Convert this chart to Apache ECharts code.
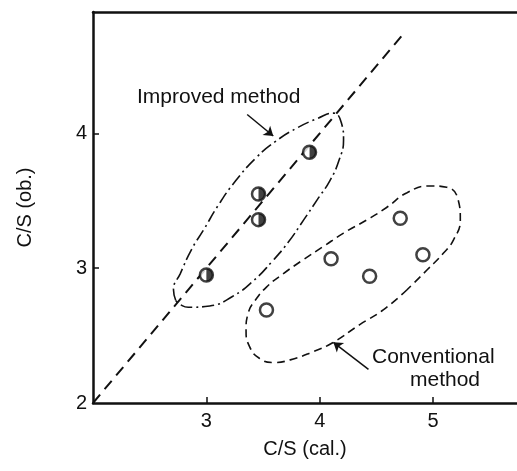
<!DOCTYPE html>
<html>
<head>
<meta charset="utf-8">
<script src="https://cdn.jsdelivr.net/npm/echarts@6/dist/echarts.min.js"></script>
<style>
  html, body { margin: 0; padding: 0; background: #fff; }
  #chart { width: 517px; height: 471px; }
</style>
</head>
<body>
<div id="chart"></div>
<script>
// values, C/S (cal.) vs C/S (ob.)
const improvedPoints = [[3.00, 2.95], [3.46, 3.55], [3.46, 3.36], [3.91, 3.86]];
const conventionalPoints = [[3.53, 2.69], [4.10, 3.07], [4.44, 2.94], [4.71, 3.37], [4.91, 3.10]];
const diagonalLine = [[2, 2], [4.74, 4.74]];

// hand-drawn outlines round each group
const improvedOutline = [
    [2.73, 2.76], [2.71, 2.84], [2.77, 2.96], [2.87, 3.14], [2.98, 3.29], [3.10, 3.46],
    [3.26, 3.65], [3.44, 3.82], [3.61, 3.94], [3.80, 4.04], [3.98, 4.11], [4.12, 4.15],
    [4.19, 4.08], [4.21, 3.95], [4.17, 3.80], [4.09, 3.65], [3.98, 3.51], [3.86, 3.36],
    [3.72, 3.19], [3.58, 3.05], [3.42, 2.91], [3.23, 2.79], [3.03, 2.72], [2.84, 2.71],
    [2.77, 2.73], [2.73, 2.76]
];
const conventionalOutline = [
    [4.77, 2.84], [4.56, 2.69], [4.35, 2.58], [4.12, 2.45], [3.94, 2.38], [3.74, 2.32],
    [3.59, 2.30], [3.47, 2.33], [3.38, 2.42], [3.35, 2.54], [3.37, 2.67], [3.43, 2.76],
    [3.53, 2.86], [3.68, 2.96], [3.85, 3.06], [4.03, 3.16], [4.21, 3.26], [4.42, 3.36],
    [4.59, 3.45], [4.77, 3.56], [4.97, 3.61], [5.12, 3.60], [5.22, 3.51], [5.24, 3.36],
    [5.18, 3.21], [5.09, 3.11], [4.95, 2.99], [4.77, 2.84]
];

// label arrows: [from, to]
const improvedArrow = [[3.36, 4.14], [3.59, 3.98]];
const conventionalArrow = [[4.43, 2.25], [4.12, 2.45]];

const xTicks = [3, 4, 5];
const yTicks = [3, 4];
const yLabels = [2, 3, 4];

const font = "'Liberation Sans', Arial, Helvetica, sans-serif";
const ink = '#111';

const chart = echarts.init(document.getElementById('chart'));

const option = {
    animation: false,
    grid: { left: 93, right: 0, top: 12, bottom: 68 },
    xAxis: [
        {
            type: 'value',
            min: 2,
            max: 5.74,
            interval: 1,
            name: 'C/S (cal.)',
            nameLocation: 'middle',
            nameGap: 36,
            nameTextStyle: { fontFamily: font, fontSize: 20, color: ink },
            axisLine: { show: true, onZero: false, lineStyle: { color: ink, width: 2.5 } },
            axisTick: { show: true, inside: true, length: 6, customValues: xTicks, lineStyle: { color: ink, width: 1.5 } },
            axisLabel: { customValues: xTicks, margin: 8, fontFamily: font, fontSize: 20, color: ink },
            splitLine: { show: false }
        },
        {
            type: 'value',
            position: 'top',
            min: 2,
            max: 5.74,
            axisLine: { show: true, onZero: false, lineStyle: { color: ink, width: 2.5 } },
            axisTick: { show: false },
            axisLabel: { show: false },
            splitLine: { show: false }
        }
    ],
    yAxis: {
        type: 'value',
        min: 2,
        max: 4.9,
        interval: 1,
        name: 'C/S (ob.)',
        nameLocation: 'middle',
        nameGap: 58,
        nameTextStyle: { fontFamily: font, fontSize: 20, color: ink },
        axisLine: { show: true, onZero: false, lineStyle: { color: ink, width: 2.5 } },
        axisTick: { show: true, inside: true, length: 6, customValues: yTicks, lineStyle: { color: ink, width: 1.5 } },
        axisLabel: { customValues: yLabels, margin: 6, fontFamily: font, fontSize: 20, color: ink },
        splitLine: { show: false }
    },
    series: [
        {
            name: 'y = x',
            type: 'line',
            data: diagonalLine,
            symbol: 'none',
            silent: true,
            lineStyle: { color: ink, width: 2, type: [11, 7] },
            markLine: {
                silent: true,
                symbol: ['none', 'arrow'],
                symbolSize: 9,
                label: { show: false },
                lineStyle: { color: ink, width: 1.5, type: 'solid' },
                data: [
                    [{ coord: improvedArrow[0] }, { coord: improvedArrow[1] }],
                    [{ coord: conventionalArrow[0] }, { coord: conventionalArrow[1] }]
                ]
            }
        },
        {
            name: 'Improved outline',
            type: 'line',
            data: improvedOutline,
            smooth: 0.5,
            symbol: 'none',
            silent: true,
            lineStyle: { color: ink, width: 1.6, type: [12, 4, 2, 4] }
        },
        {
            name: 'Conventional outline',
            type: 'line',
            data: conventionalOutline,
            smooth: 0.5,
            symbol: 'none',
            silent: true,
            lineStyle: { color: ink, width: 1.6, type: [8, 5] }
        },
        {
            name: 'Conventional method',
            type: 'scatter',
            data: conventionalPoints,
            symbol: 'circle',
            symbolSize: 13,
            itemStyle: { color: '#fff', borderColor: ink, borderWidth: 2.5 },
            z: 5
        },
        {
            name: 'Improved method',
            type: 'scatter',
            data: improvedPoints,
            symbol: 'circle',
            symbolSize: 13,
            itemStyle: { color: '#fff', borderColor: ink, borderWidth: 2.5 },
            z: 5
        },
        {
            name: 'Improved method (fill)',
            type: 'scatter',
            data: improvedPoints,
            symbol: 'path://M0,-10 A10,10 0 0,1 0,10 Z',
            symbolSize: [6.5, 13],
            symbolOffset: [3.25, 0],
            itemStyle: { color: ink },
            z: 6
        }
    ],
    graphic: [
        {
            type: 'text',
            left: 137,
            top: 87,
            style: { text: 'Improved method', font: '21px ' + font, fill: ink }
        },
        {
            type: 'text',
            left: 372,
            top: 347,
            style: { text: 'Conventional', font: '21px ' + font, fill: ink }
        },
        {
            type: 'text',
            left: 410,
            top: 370,
            style: { text: 'method', font: '21px ' + font, fill: ink }
        }
    ]
};

chart.setOption(option);

window.addEventListener('resize', () => {
    chart.resize();
});
</script>
</body>
</html>
